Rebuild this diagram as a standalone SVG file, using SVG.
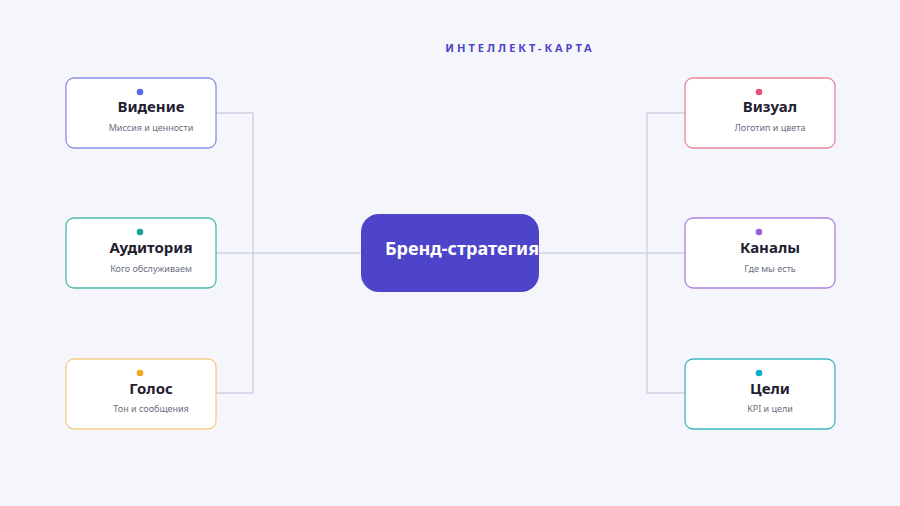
<svg xmlns="http://www.w3.org/2000/svg" width="900" height="506" viewBox="0 0 900 506">
<style>
.bg{fill:#f5f6fb}
.card{fill:#ffffff;stroke-width:1.3}
.t{font-family:"Noto Sans","Open Sans",sans-serif;font-size:15px;font-weight:700;fill:#1f2130;text-anchor:middle}
.s{font-family:"Noto Sans","Open Sans",sans-serif;font-size:9px;fill:#6b6f80;text-anchor:middle}
.c{fill:none;stroke:#cfd0e4;stroke-width:1.5}
.hd{font-family:"Noto Sans","Open Sans",sans-serif;font-size:11px;font-weight:700;fill:#4f46c8;letter-spacing:3px;text-anchor:middle}
</style>
<rect class="bg" x="0" y="0" width="900" height="506"/>
<text class="hd" x="520" y="52">ИНТЕЛЛЕКТ-КАРТА</text>
<g id="connectors">
<path class="c" d="M216 113 H253 V393 H216"/>
<path class="c" d="M216 253 H361"/>
<path class="c" d="M685 113 H647 V393 H685"/>
<path class="c" d="M539 253 H685"/>
</g>
<g id="center">
<rect x="361" y="214" width="178" height="78" rx="18" fill="#4d44c9"/>
<text x="462" y="255" font-family="Noto Sans, Open Sans, sans-serif" font-size="18" font-weight="700" fill="#ffffff" text-anchor="middle">Бренд-стратегия</text>
</g>
<g id="vision">
<rect class="card" x="66" y="78" width="150" height="70" rx="8" stroke="#8990e2"/>
<circle cx="140" cy="92" r="3.3" fill="#5b67e8"/>
<text class="t" x="151" y="112">Видение</text>
<text class="s" x="151" y="131">Миссия и ценности</text>
</g>
<g id="audience">
<rect class="card" x="66" y="218" width="150" height="70" rx="8" stroke="#4cb8ac"/>
<circle cx="140" cy="232" r="3.3" fill="#14a39a"/>
<text class="t" x="151" y="253">Аудитория</text>
<text class="s" x="151" y="272">Кого обслуживаем</text>
</g>
<g id="voice">
<rect class="card" x="66" y="359" width="150" height="70" rx="8" stroke="#f3cd85"/>
<circle cx="140" cy="373" r="3.3" fill="#f5a623"/>
<text class="t" x="151" y="394">Голос</text>
<text class="s" x="151" y="412">Тон и сообщения</text>
</g>
<g id="visual">
<rect class="card" x="685" y="78" width="150" height="70" rx="8" stroke="#e8849c"/>
<circle cx="759" cy="92" r="3.3" fill="#ec4f7a"/>
<text class="t" x="770" y="112">Визуал</text>
<text class="s" x="770" y="131">Логотип и цвета</text>
</g>
<g id="channels">
<rect class="card" x="685" y="218" width="150" height="70" rx="8" stroke="#a982e0"/>
<circle cx="759" cy="232" r="3.3" fill="#9b5de5"/>
<text class="t" x="770" y="253">Каналы</text>
<text class="s" x="770" y="272">Где мы есть</text>
</g>
<g id="goals">
<rect class="card" x="685" y="359" width="150" height="70" rx="8" stroke="#3db6c2"/>
<circle cx="759" cy="373" r="3.3" fill="#06aecb"/>
<text class="t" x="770" y="394">Цели</text>
<text class="s" x="770" y="412">KPI и цели</text>
</g>
</svg>
